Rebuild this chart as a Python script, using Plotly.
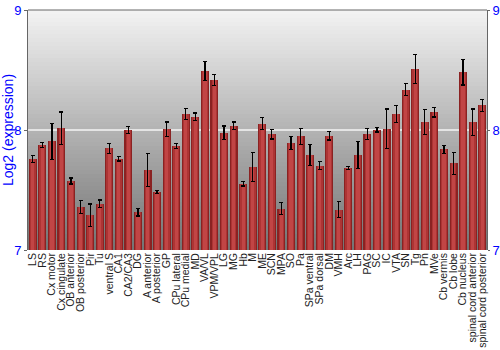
import plotly.graph_objects as go

categories = ["LS", "RS", "Cx motor", "Cx cingulate", "OB anterior", "OB posterior", "Pir", "Tu",
              "ventral S", "CA1", "CA2/CA3", "DG", "A anterior", "A posterior", "GP", "CPu lateral",
              "CPu medial", "MD", "VA/VL", "VPM/VPL", "LG", "MG", "Hb", "M", "ME", "SCN", "MPA", "SO",
              "Pa", "SPa ventral", "SPa dorsal", "DM", "VMH", "Arc", "LH", "PAG", "SC", "IC", "VTA",
              "SN", "Tg", "Pn", "MVe", "Cb vermis", "Cb lobe", "Cb nucleus", "spinal cord anterior",
              "spinal cord posterior"]
values = [7.76, 7.874, 7.905, 8.015, 7.575, 7.357, 7.288, 7.387,
          7.846, 7.761, 8.0, 7.313, 7.667, 7.484, 8.007, 7.869,
          8.134, 8.112, 8.494, 8.419, 7.979, 8.037, 7.553, 7.694, 8.054, 7.965, 7.343, 7.893,
          7.946, 7.791, 7.703, 7.952, 7.337, 7.683, 7.791, 7.965, 8.003, 8.01, 8.131,
          8.336, 8.51, 8.065, 8.148, 7.838, 7.722, 8.48, 8.065, 8.206]
errors = [0.03, 0.02, 0.15, 0.135, 0.025, 0.055, 0.095, 0.03,
          0.04, 0.02, 0.03, 0.03, 0.14, 0.015, 0.06, 0.02,
          0.045, 0.03, 0.08, 0.045, 0.055, 0.03, 0.02, 0.12, 0.05, 0.04, 0.05, 0.055,
          0.065, 0.085, 0.035, 0.035, 0.065, 0.015, 0.11, 0.045, 0.02, 0.165, 0.07,
          0.05, 0.12, 0.105, 0.04, 0.035, 0.09, 0.105, 0.11, 0.05]

y_ticks = [7, 8, 9]

fig = go.Figure()
fig.add_trace(go.Bar(x=categories, y=values, width=0.84, marker=dict(color="#8a2222", line=dict(width=0)),
                     hoverinfo="skip"))
fig.add_trace(go.Bar(x=categories, y=values, width=0.6, marker=dict(color="#ad3434", line=dict(width=0)),
                     hoverinfo="skip"))
fig.add_trace(go.Bar(x=categories, y=values, width=0.34, marker=dict(color="#c14545", line=dict(width=0)),
                     error_y=dict(type="data", array=errors, color="black", thickness=1.2, width=2)))
# invisible trace so the mirrored right-hand axis is drawn
fig.add_trace(go.Scatter(x=[categories[0]], y=[y_ticks[0]], yaxis="y2", mode="markers",
                         marker=dict(opacity=0), hoverinfo="skip"))

# background vertical gradient
n = 60
shapes = []
for i in range(n):
    t = i / (n - 1)
    top = (0xf2, 0xf2, 0xf2)
    bot = (0x74, 0x74, 0x74)
    c = tuple(int(round(top[k] + (bot[k] - top[k]) * t)) for k in range(3))
    shapes.append(dict(type="rect", xref="paper", yref="paper", x0=0, x1=1,
                       y0=1 - (i + 1) / n, y1=1 - i / n, fillcolor="rgb(%d,%d,%d)" % c,
                       line=dict(width=0), layer="below"))
shapes.append(dict(type="line", xref="paper", yref="y", x0=0, x1=1, y0=8, y1=8,
                   line=dict(color="#f4f4f4", width=1.5), layer="below"))
shapes.append(dict(type="line", xref="paper", yref="paper", x0=0, x1=1, y0=1, y1=1,
                   line=dict(color="#666666", width=1)))

fig.update_layout(
    width=500, height=350,
    margin=dict(l=28, r=13, t=10, b=100),
    paper_bgcolor="white", plot_bgcolor="rgba(0,0,0,0)",
    barmode="overlay", showlegend=False, bargap=0,
    shapes=shapes,
    font=dict(family="Liberation Sans, Arial, sans-serif"),
    xaxis=dict(tickangle=-90, tickmode="array", tickvals=categories, ticktext=categories,
               range=[-0.5, len(categories) - 0.5],
               tickfont=dict(size=10.5, color="#222222"), showgrid=False,
               ticks="", showline=False, automargin=False),
    yaxis=dict(range=[7, 9], tickvals=y_ticks, showgrid=False, zeroline=False,
               showline=True, linecolor="#666666", ticks="outside", ticklen=3, tickcolor="#666666",
               tickfont=dict(size=13, color="blue"),
               title=dict(text="Log2 (expression)", font=dict(size=14, color="blue"), standoff=5),
               automargin=False),
    yaxis2=dict(range=[7, 9], tickvals=y_ticks, overlaying="y", side="right", showgrid=False,
                zeroline=False, showline=True, linecolor="#666666", ticks="outside", ticklen=2,
                tickcolor="#666666", tickfont=dict(size=13, color="blue"), automargin=False),
)
fig.write_html("out.html")
